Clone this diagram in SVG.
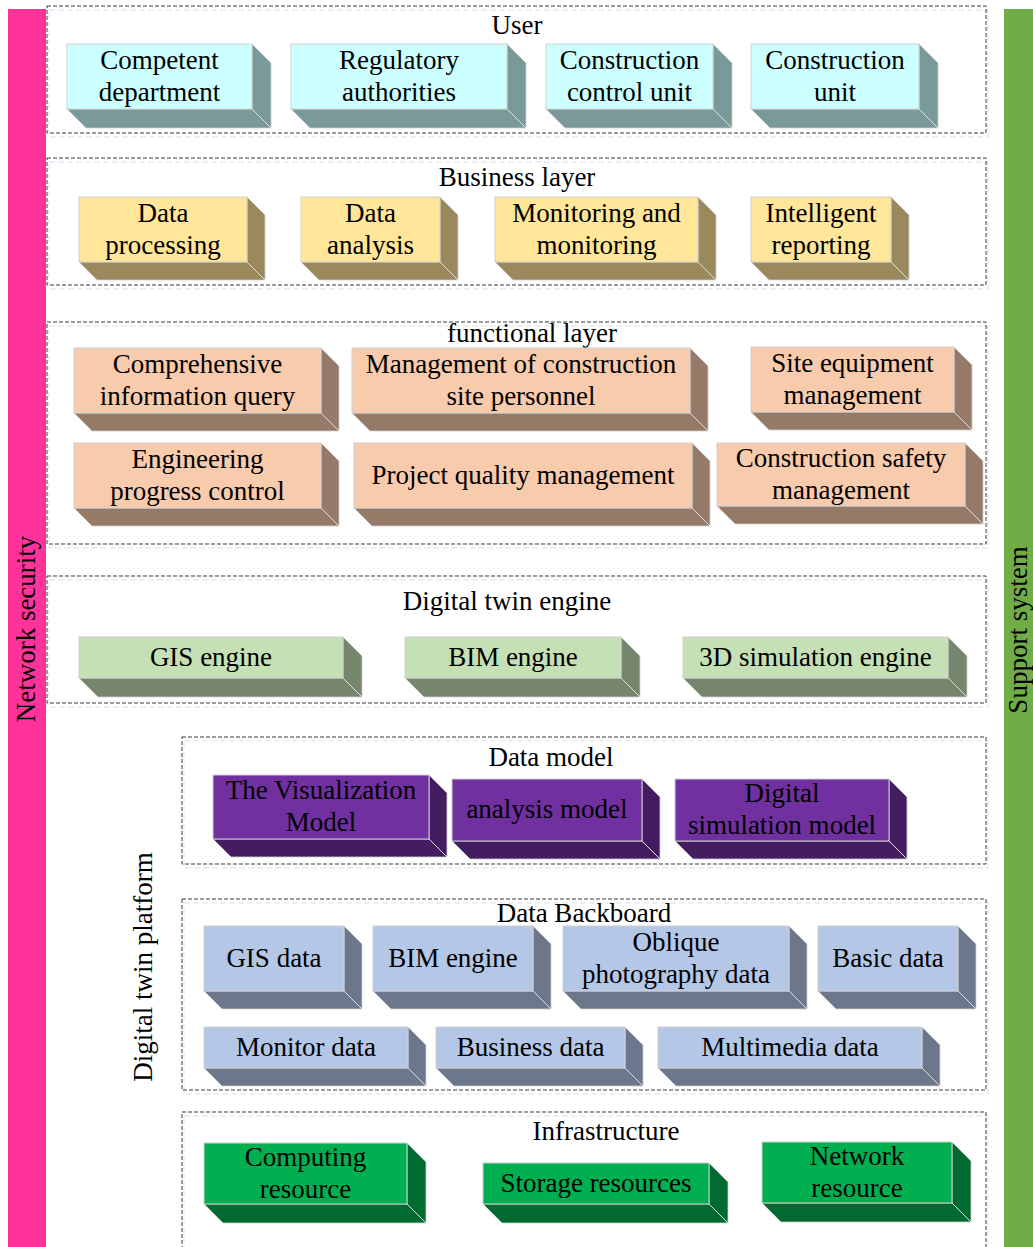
<svg xmlns="http://www.w3.org/2000/svg" width="1033" height="1247" viewBox="0 0 1033 1247">
<style>
text{font-family:"Liberation Serif","Times New Roman",serif;font-size:27px;fill:#000;text-anchor:middle}
.layer{fill:none;stroke:#3A3A3A;stroke-width:1;stroke-dasharray:4 2}
.shadow{fill:none;stroke:#E3EBF5;stroke-width:1.5;stroke-dasharray:6 3}
.f{stroke:#D0D0D0;stroke-width:1}
.s{stroke:#D0D0D0;stroke-width:0.8}
.e{stroke:#E0E0E0;stroke-width:1}
.cy .f{fill:#CCFFFF}.cy .s{fill:#7A9999}
.yl .f{fill:#FFE699}.yl .s{fill:#99895C}
.pe .f{fill:#F8CBAD}.pe .s{fill:#957A68}
.lg .f{fill:#C5E0B4}.lg .s{fill:#76866C}
.pu .f{fill:#7030A0}.pu .s{fill:#431D60}
.bl .f{fill:#B4C7E7}.bl .s{fill:#6C778B}
.gr .f{fill:#00B050}.gr .s{fill:#006A30}
</style>

<g id="side-bars">
<rect x="8" y="9" width="38" height="1238" fill="#FF3399"/>
<rect x="1004" y="9" width="29" height="1238" fill="#70AD47"/>
<text transform="translate(35,629) rotate(-90)">Network security</text>
<text transform="translate(1027,630) rotate(-90)">Support system</text>
<text transform="translate(152,967) rotate(-90)">Digital twin platform</text>
</g>

<g id="layers">
<rect class="shadow" x="49" y="10" width="939" height="127"/>
<rect class="layer" x="47" y="6" width="939" height="127"/>
<rect class="shadow" x="49" y="162" width="939" height="127"/>
<rect class="layer" x="47" y="158" width="939" height="127"/>
<rect class="shadow" x="49" y="326" width="939" height="222"/>
<rect class="layer" x="47" y="322" width="939" height="222"/>
<rect class="shadow" x="49" y="580" width="939" height="127"/>
<rect class="layer" x="47" y="576" width="939" height="127"/>
<rect class="shadow" x="184" y="741" width="804" height="127"/>
<rect class="layer" x="182" y="737" width="804" height="127"/>
<rect class="shadow" x="184" y="903" width="804" height="191"/>
<rect class="layer" x="182" y="899" width="804" height="191"/>
<rect class="shadow" x="184" y="1116" width="804" height="150"/>
<rect class="layer" x="182" y="1112" width="804" height="150"/>
<text x="517" y="34">User</text>
<text x="517" y="186">Business layer</text>
<text x="532" y="342">functional layer</text>
<text x="507" y="610">Digital twin engine</text>
<text x="551" y="766">Data model</text>
<text x="584" y="922">Data Backboard</text>
<text x="606" y="1140">Infrastructure</text>
</g>

<g id="connectors"></g>

<!-- User -->
<g id="competent-department" class="cy">
<polygon class="s" points="252,44 271,63 271,128 252,109"/>
<polygon class="s" points="67,109 252,109 271,128 86,128"/>
<rect class="f" x="67" y="44" width="185" height="65"/>
<line class="e" x1="252" y1="109" x2="271" y2="128"/>
<text x="159.5" y="68.5">Competent<tspan x="159.5" y="100.5">department</tspan></text>
</g>
<g id="regulatory-authorities" class="cy">
<polygon class="s" points="507,44 526,63 526,128 507,109"/>
<polygon class="s" points="291,109 507,109 526,128 310,128"/>
<rect class="f" x="291" y="44" width="216" height="65"/>
<line class="e" x1="507" y1="109" x2="526" y2="128"/>
<text x="399" y="68.5">Regulatory<tspan x="399" y="100.5">authorities</tspan></text>
</g>
<g id="construction-control-unit" class="cy">
<polygon class="s" points="713,44 732,63 732,128 713,109"/>
<polygon class="s" points="546,109 713,109 732,128 565,128"/>
<rect class="f" x="546" y="44" width="167" height="65"/>
<line class="e" x1="713" y1="109" x2="732" y2="128"/>
<text x="629.5" y="68.5">Construction<tspan x="629.5" y="100.5">control unit</tspan></text>
</g>
<g id="construction-unit" class="cy">
<polygon class="s" points="919,44 938,63 938,128 919,109"/>
<polygon class="s" points="751,109 919,109 938,128 770,128"/>
<rect class="f" x="751" y="44" width="168" height="65"/>
<line class="e" x1="919" y1="109" x2="938" y2="128"/>
<text x="835" y="68.5">Construction<tspan x="835" y="100.5">unit</tspan></text>
</g>

<!-- Business -->
<g id="data-processing" class="yl">
<polygon class="s" points="247,197 265,215 265,280 247,262"/>
<polygon class="s" points="79,262 247,262 265,280 97,280"/>
<rect class="f" x="79" y="197" width="168" height="65"/>
<line class="e" x1="247" y1="262" x2="265" y2="280"/>
<text x="163" y="221.5">Data<tspan x="163" y="253.5">processing</tspan></text>
</g>
<g id="data-analysis" class="yl">
<polygon class="s" points="440,197 458,215 458,280 440,262"/>
<polygon class="s" points="301,262 440,262 458,280 319,280"/>
<rect class="f" x="301" y="197" width="139" height="65"/>
<line class="e" x1="440" y1="262" x2="458" y2="280"/>
<text x="370.5" y="221.5">Data<tspan x="370.5" y="253.5">analysis</tspan></text>
</g>
<g id="monitoring" class="yl">
<polygon class="s" points="698,197 716,215 716,280 698,262"/>
<polygon class="s" points="495,262 698,262 716,280 513,280"/>
<rect class="f" x="495" y="197" width="203" height="65"/>
<line class="e" x1="698" y1="262" x2="716" y2="280"/>
<text x="596.5" y="221.5">Monitoring and<tspan x="596.5" y="253.5">monitoring</tspan></text>
</g>
<g id="intelligent-reporting" class="yl">
<polygon class="s" points="891,197 909,215 909,280 891,262"/>
<polygon class="s" points="751,262 891,262 909,280 769,280"/>
<rect class="f" x="751" y="197" width="140" height="65"/>
<line class="e" x1="891" y1="262" x2="909" y2="280"/>
<text x="821" y="221.5">Intelligent<tspan x="821" y="253.5">reporting</tspan></text>
</g>

<!-- Functional -->
<g id="info-query" class="pe">
<polygon class="s" points="321,348 339,366 339,431 321,413"/>
<polygon class="s" points="74,413 321,413 339,431 92,431"/>
<rect class="f" x="74" y="348" width="247" height="65"/>
<line class="e" x1="321" y1="413" x2="339" y2="431"/>
<text x="197.5" y="372.5">Comprehensive<tspan x="197.5" y="404.5">information query</tspan></text>
</g>
<g id="personnel" class="pe">
<polygon class="s" points="690,348 708,366 708,431 690,413"/>
<polygon class="s" points="352,413 690,413 708,431 370,431"/>
<rect class="f" x="352" y="348" width="338" height="65"/>
<line class="e" x1="690" y1="413" x2="708" y2="431"/>
<text x="521" y="372.5">Management of construction<tspan x="521" y="404.5">site personnel</tspan></text>
</g>
<g id="equipment" class="pe">
<polygon class="s" points="954,347 972,365 972,430 954,412"/>
<polygon class="s" points="751,412 954,412 972,430 769,430"/>
<rect class="f" x="751" y="347" width="203" height="65"/>
<line class="e" x1="954" y1="412" x2="972" y2="430"/>
<text x="852.5" y="371.5">Site equipment<tspan x="852.5" y="403.5">management</tspan></text>
</g>
<g id="progress" class="pe">
<polygon class="s" points="321,443 339,461 339,526 321,508"/>
<polygon class="s" points="74,508 321,508 339,526 92,526"/>
<rect class="f" x="74" y="443" width="247" height="65"/>
<line class="e" x1="321" y1="508" x2="339" y2="526"/>
<text x="197.5" y="467.5">Engineering<tspan x="197.5" y="499.5">progress control</tspan></text>
</g>
<g id="quality" class="pe">
<polygon class="s" points="692,443 710,461 710,526 692,508"/>
<polygon class="s" points="354,508 692,508 710,526 372,526"/>
<rect class="f" x="354" y="443" width="338" height="65"/>
<line class="e" x1="692" y1="508" x2="710" y2="526"/>
<text x="523" y="483.5">Project quality management</text>
</g>
<g id="safety" class="pe">
<polygon class="s" points="965,443 983,461 983,524 965,506"/>
<polygon class="s" points="717,506 965,506 983,524 735,524"/>
<rect class="f" x="717" y="443" width="248" height="63"/>
<line class="e" x1="965" y1="506" x2="983" y2="524"/>
<text x="841" y="466.5">Construction safety<tspan x="841" y="498.5">management</tspan></text>
</g>

<!-- Engine -->
<g id="gis-engine" class="lg">
<polygon class="s" points="343,637 362,656 362,697 343,678"/>
<polygon class="s" points="79,678 343,678 362,697 98,697"/>
<rect class="f" x="79" y="637" width="264" height="41"/>
<line class="e" x1="343" y1="678" x2="362" y2="697"/>
<text x="211" y="666">GIS engine</text>
</g>
<g id="bim-engine" class="lg">
<polygon class="s" points="621,637 640,656 640,697 621,678"/>
<polygon class="s" points="405,678 621,678 640,697 424,697"/>
<rect class="f" x="405" y="637" width="216" height="41"/>
<line class="e" x1="621" y1="678" x2="640" y2="697"/>
<text x="513" y="666">BIM engine</text>
</g>
<g id="sim-engine" class="lg">
<polygon class="s" points="948,637 967,656 967,697 948,678"/>
<polygon class="s" points="683,678 948,678 967,697 702,697"/>
<rect class="f" x="683" y="637" width="265" height="41"/>
<line class="e" x1="948" y1="678" x2="967" y2="697"/>
<text x="815.5" y="666">3D simulation engine</text>
</g>

<!-- Data model -->
<g id="vis-model" class="pu">
<polygon class="s" points="429,775 447,793 447,857 429,839"/>
<polygon class="s" points="213,839 429,839 447,857 231,857"/>
<rect class="f" x="213" y="775" width="216" height="64"/>
<line class="e" x1="429" y1="839" x2="447" y2="857"/>
<text x="321" y="799">The Visualization<tspan x="321" y="831">Model</tspan></text>
</g>
<g id="analysis-model" class="pu">
<polygon class="s" points="642,779 660,797 660,859 642,841"/>
<polygon class="s" points="452,841 642,841 660,859 470,859"/>
<rect class="f" x="452" y="779" width="190" height="62"/>
<line class="e" x1="642" y1="841" x2="660" y2="859"/>
<text x="547" y="818">analysis model</text>
</g>
<g id="sim-model" class="pu">
<polygon class="s" points="889,779 907,797 907,859 889,841"/>
<polygon class="s" points="675,841 889,841 907,859 693,859"/>
<rect class="f" x="675" y="779" width="214" height="62"/>
<line class="e" x1="889" y1="841" x2="907" y2="859"/>
<text x="782" y="802">Digital<tspan x="782" y="834">simulation model</tspan></text>
</g>

<!-- Data backboard -->
<g id="gis-data" class="bl">
<polygon class="s" points="344,926 362,944 362,1009 344,991"/>
<polygon class="s" points="204,991 344,991 362,1009 222,1009"/>
<rect class="f" x="204" y="926" width="140" height="65"/>
<line class="e" x1="344" y1="991" x2="362" y2="1009"/>
<text x="274" y="966.5">GIS data</text>
</g>
<g id="bim-data" class="bl">
<polygon class="s" points="533,926 551,944 551,1009 533,991"/>
<polygon class="s" points="373,991 533,991 551,1009 391,1009"/>
<rect class="f" x="373" y="926" width="160" height="65"/>
<line class="e" x1="533" y1="991" x2="551" y2="1009"/>
<text x="453" y="966.5">BIM engine</text>
</g>
<g id="oblique-data" class="bl">
<polygon class="s" points="789,926 807,944 807,1009 789,991"/>
<polygon class="s" points="563,991 789,991 807,1009 581,1009"/>
<rect class="f" x="563" y="926" width="226" height="65"/>
<line class="e" x1="789" y1="991" x2="807" y2="1009"/>
<text x="676" y="950.5">Oblique<tspan x="676" y="982.5">photography data</tspan></text>
</g>
<g id="basic-data" class="bl">
<polygon class="s" points="958,926 976,944 976,1009 958,991"/>
<polygon class="s" points="818,991 958,991 976,1009 836,1009"/>
<rect class="f" x="818" y="926" width="140" height="65"/>
<line class="e" x1="958" y1="991" x2="976" y2="1009"/>
<text x="888" y="966.5">Basic data</text>
</g>
<g id="monitor-data" class="bl">
<polygon class="s" points="408,1027 426,1045 426,1086 408,1068"/>
<polygon class="s" points="204,1068 408,1068 426,1086 222,1086"/>
<rect class="f" x="204" y="1027" width="204" height="41"/>
<line class="e" x1="408" y1="1068" x2="426" y2="1086"/>
<text x="306" y="1055.5">Monitor data</text>
</g>
<g id="business-data" class="bl">
<polygon class="s" points="625,1027 643,1045 643,1086 625,1068"/>
<polygon class="s" points="436,1068 625,1068 643,1086 454,1086"/>
<rect class="f" x="436" y="1027" width="189" height="41"/>
<line class="e" x1="625" y1="1068" x2="643" y2="1086"/>
<text x="530.5" y="1055.5">Business data</text>
</g>
<g id="multimedia-data" class="bl">
<polygon class="s" points="922,1027 940,1045 940,1086 922,1068"/>
<polygon class="s" points="658,1068 922,1068 940,1086 676,1086"/>
<rect class="f" x="658" y="1027" width="264" height="41"/>
<line class="e" x1="922" y1="1068" x2="940" y2="1086"/>
<text x="790" y="1055.5">Multimedia data</text>
</g>

<!-- Infrastructure -->
<g id="computing" class="gr">
<polygon class="s" points="407,1143 426,1162 426,1223 407,1204"/>
<polygon class="s" points="204,1204 407,1204 426,1223 223,1223"/>
<rect class="f" x="204" y="1143" width="203" height="61"/>
<line class="e" x1="407" y1="1204" x2="426" y2="1223"/>
<text x="305.5" y="1165.5">Computing<tspan x="305.5" y="1197.5">resource</tspan></text>
</g>
<g id="storage" class="gr">
<polygon class="s" points="709,1163 728,1182 728,1223 709,1204"/>
<polygon class="s" points="483,1204 709,1204 728,1223 502,1223"/>
<rect class="f" x="483" y="1163" width="226" height="41"/>
<line class="e" x1="709" y1="1204" x2="728" y2="1223"/>
<text x="596" y="1192">Storage resources</text>
</g>
<g id="network" class="gr">
<polygon class="s" points="952,1142 971,1161 971,1222 952,1203"/>
<polygon class="s" points="762,1203 952,1203 971,1222 781,1222"/>
<rect class="f" x="762" y="1142" width="190" height="61"/>
<line class="e" x1="952" y1="1203" x2="971" y2="1222"/>
<text x="857" y="1164.5">Network<tspan x="857" y="1196.5">resource</tspan></text>
</g>
</svg>
